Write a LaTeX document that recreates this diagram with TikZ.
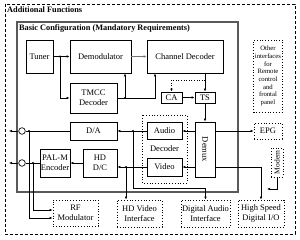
\documentclass[tikz,border=0pt]{standalone}
\usepackage{fontspec}
\setmainfont{Liberation Serif}
\usetikzlibrary{arrows.meta,calc}
\begin{document}
\begin{tikzpicture}[x=1pt,y=-1pt,
  box/.style={draw, line width=0.8pt, inner sep=0pt, align=center, font=\fontsize{8.5}{10}\selectfont},
  dbox/.style={draw, dotted, line width=0.8pt, inner sep=0pt, align=center, font=\fontsize{8.5}{10}\selectfont},
  conn/.style={line width=0.6pt},
  arr/.style={conn, -{Latex[length=3pt,width=2.6pt]}},
  jdot/.style={circle, fill, inner sep=0pt, minimum size=2.4pt},
  ring/.style={circle, draw, line width=0.7pt, minimum size=6.6pt, inner sep=0pt},
  outerb/.style={line width=0.9pt, dash pattern=on 3pt off 2pt},
  basicb/.style={line width=1.6pt, draw=black!65},
  ttl/.style={inner sep=0pt, anchor=west, font=\bfseries\fontsize{8.3}{10}\selectfont},
]
\useasboundingbox (0,0) rectangle (300,240);
\fill[white] (0,0) rectangle (300,240);

% containers
\draw[outerb] (5,4) rectangle (295,234);
\node[ttl] (addf) at (7,9.5) {Additional Functions};
\draw[basicb] (17,22) rectangle (238,192);
\node[ttl] (basict) at (19,28) {Basic Configuration (Mandatory Requirements)};

% solid blocks
\node[box, minimum width=27pt, minimum height=33pt] (tuner) at (39.5,56.5) {Tuner};
\node[box, minimum width=61pt, minimum height=33pt] (demod) at (100.5,56.5) {Demodulator};
\node[box, minimum width=76pt, minimum height=33pt] (chdec) at (185,56.5) {Channel Decoder};
\node[box, minimum width=47pt, minimum height=30pt] (tmcc) at (93.5,98) {TMCC\\Decoder};
\node[box, minimum width=21pt, minimum height=11pt] (ca) at (171.5,97.5) {CA};
\node[box, minimum width=20pt, minimum height=11pt] (ts) at (205,97.5) {TS};
\node[box, minimum width=47pt, minimum height=18pt] (da) at (93.5,131) {D/A};
\draw[dotted, line width=0.8pt] (142,115) rectangle (187,183);
\node[box, minimum width=35pt, minimum height=17pt] (audio) at (164.5,131) {Audio};
\node[inner sep=0pt, font=\fontsize{8.5}{10}\selectfont] (dectxt) at (164.5,149) {Decoder};
\node[box, minimum width=35pt, minimum height=18pt] (video) at (164.5,167) {Video};
\node[box, minimum width=20pt, minimum height=55pt] (demux) at (205,149.5) {\rotatebox{-90}{Demux}};
\node[box, minimum width=30pt, minimum height=28pt] (palm) at (55,163) {PAL-M\\Encoder};
\node[box, minimum width=34pt, minimum height=28pt] (hddc) at (100,163) {HD\\D/C};
\node[ring] (c1) at (22,131) {};
\node[ring] (c2) at (22,163) {};

% dotted blocks
\node[dbox, minimum width=29pt, minimum height=72pt, font=\fontsize{6.7}{7.7}\selectfont] (other) at (268,76) {Other\\interfaces\\for\\Remote\\control\\and\\frontal\\panel};
\node[dbox, minimum width=28pt, minimum height=16pt] (epg) at (268,131) {EPG};
\node[dbox, minimum width=12pt, minimum height=29pt] (modem) at (277,162.5) {\rotatebox{90}{\fontsize{7.5}{8}\selectfont Modem}};
\node[dbox, minimum width=45pt, minimum height=26pt] (rf) at (75.5,213) {RF\\Modulator};
\node[dbox, minimum width=45pt, minimum height=27pt] (hdvi) at (139.5,213.5) {HD Video\\Interface};
\node[dbox, minimum width=49pt, minimum height=27pt] (dai) at (205.5,213.5) {Digital Audio\\Interface};
\node[dbox, minimum width=46pt, minimum height=27pt] (hsio) at (261,213.5) {High Speed\\Digital I/O};

% junction coordinates
\coordinate (j1) at (60,56.5);
\coordinate (j2) at (125,98);
\coordinate (k1) at (155,98);
\coordinate (k2) at (205,80);
\coordinate (j3) at (133,131);
\coordinate (k3) at (133,188);
\coordinate (j4) at (126,167);
\coordinate (j5) at (29,131);
\coordinate (j6) at (33,163);
\coordinate (r1) at (29,218);
\coordinate (r2) at (33,210);
\coordinate (o1) at (9,131);
\coordinate (o2) at (9,163);
\coordinate (k4) at (261,167);
\coordinate (k6) at (267,189);

% connectors
\draw[arr] (tuner) -- (demod);
\draw[arr] (j1) |- (tmcc.west);
\draw[arr, draw=black!55, fill=black!55] (demod) -- (chdec);
\draw[arr] (j2) -- (j2 |- demod.south);
\draw[arr] (tmcc.east) -- (k1) -- (k1 |- chdec.south);
\draw[arr] (ts.north |- chdec.south) -- (ts.north);
\draw[arr, dotted] (k2) -| (ca.north);
\draw[arr] (ca) -- (ts);
\draw[arr] (ts) -- (demux);
\draw[arr] (audio -| demux.west) -- (audio.east);
\draw[arr] (video -| demux.west) -- (video.east);
\draw[arr] (audio.west) -- (da.east);
\draw[arr] (j3) -- (k3) -| (dai.north);
\draw[arr] (video.west) -- (video.west -| hddc.east);
\draw[arr] (j4) -- (j4 |- hdvi.north);
\draw[arr] (hddc.west) -- (palm.east);
\draw[conn] (palm.west) -- (c2);
\draw[arr] (c2) -- (o2);
\draw[conn] (da.west) -- (c1);
\draw[arr] (c1) -- (o1);
\draw[arr] (j5) -- (r1) -- (r1 -| rf.west);
\draw[arr] (j6) -- (r2) -- (r2 -| rf.west);
\draw[arr] (epg -| demux.east) -- (epg.west);
\draw[arr] (k4 -| demux.east) -- (k4) -- (k4 |- hsio.north);
\draw[arr] (modem.south) |- (k6);

% junction dots
\foreach \p in {j1,j2,j3,j4,j5,j6} \node[jdot] at (\p) {};
\end{tikzpicture}
\end{document}
